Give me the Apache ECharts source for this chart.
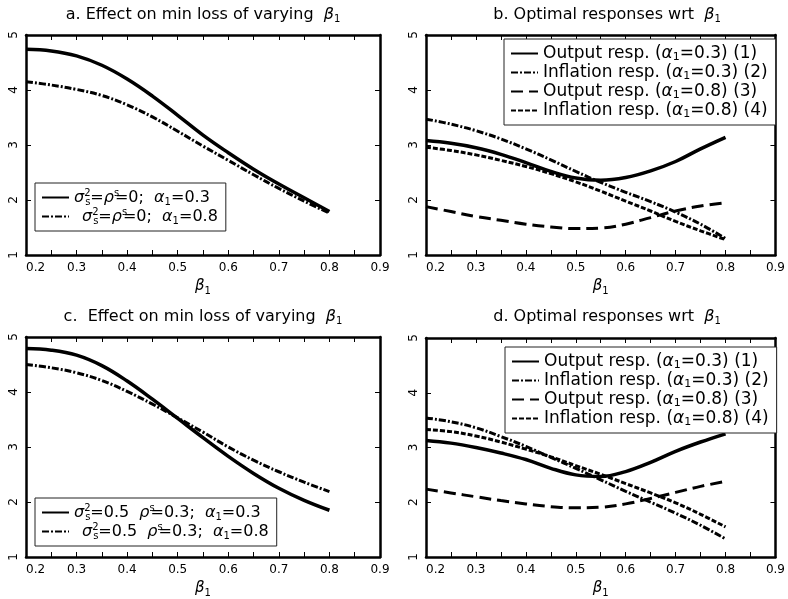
<!DOCTYPE html>
<html>
<head>
<meta charset="utf-8">
<script src="https://cdn.jsdelivr.net/npm/echarts@6/dist/echarts.min.js"></script>
<style>
  html, body { margin: 0; padding: 0; background: #fff; }
  #chart { width: 788px; height: 599px; }
</style>
</head>
<body>
<div id="chart"></div>
<script>
const beta = [0.2, 0.25, 0.3, 0.35, 0.4, 0.45, 0.5, 0.55, 0.6, 0.65, 0.7, 0.75, 0.8]
const xTicks = ['0.2', '0.3', '0.4', '0.5', '0.6', '0.7', '0.8', '0.9']

// a. min loss, sigma_s^2 = rho^s = 0
const lossA03 = [4.74, 4.71, 4.62, 4.45, 4.20, 3.89, 3.54, 3.18, 2.86, 2.56, 2.29, 2.04, 1.79]
const lossA08 = [4.15, 4.09, 4.01, 3.90, 3.73, 3.51, 3.25, 2.98, 2.72, 2.46, 2.21, 1.98, 1.76]

// c. min loss, sigma_s^2 = 0.5, rho^s = 0.3
const lossC03 = [4.79, 4.76, 4.67, 4.48, 4.20, 3.87, 3.52, 3.17, 2.83, 2.52, 2.25, 2.03, 1.85]
const lossC08 = [4.50, 4.44, 4.35, 4.21, 4.01, 3.78, 3.53, 3.27, 3.00, 2.76, 2.55, 2.36, 2.19]

// b. optimal responses
const outB03 = [3.08, 3.03, 2.95, 2.83, 2.68, 2.52, 2.40, 2.36, 2.41, 2.53, 2.70, 2.93, 3.14]
const infB03 = [3.47, 3.38, 3.26, 3.11, 2.93, 2.73, 2.52, 2.32, 2.14, 1.97, 1.78, 1.56, 1.30]
const outB08 = [1.88, 1.79, 1.70, 1.63, 1.56, 1.51, 1.48, 1.49, 1.56, 1.68, 1.80, 1.89, 1.95]
const infB08 = [2.96, 2.90, 2.82, 2.72, 2.61, 2.48, 2.33, 2.16, 1.98, 1.80, 1.61, 1.44, 1.28]

// d. optimal responses
const outD03 = [3.13, 3.08, 3.00, 2.90, 2.78, 2.62, 2.50, 2.47, 2.56, 2.73, 2.93, 3.10, 3.25]
const infD03 = [3.54, 3.47, 3.36, 3.20, 3.02, 2.82, 2.62, 2.41, 2.20, 2.00, 1.80, 1.58, 1.33]
const outD08 = [2.24, 2.17, 2.10, 2.03, 1.97, 1.92, 1.90, 1.91, 1.97, 2.07, 2.18, 2.29, 2.38]
const infD08 = [3.33, 3.29, 3.21, 3.10, 2.97, 2.83, 2.67, 2.51, 2.34, 2.17, 1.99, 1.78, 1.55]

const titles = [
  'a. Effect on min loss of varying  {g|β}{s|1}',
  'b. Optimal responses wrt  {g|β}{s|1}',
  'c.  Effect on min loss of varying  {g|β}{s|1}',
  'd. Optimal responses wrt  {g|β}{s|1}',
]

const legendText = {
  a1: '{g|σ}{up|2}{s|s}={g|ρ}{up|s}=0;  {g|α}{s|1}=0.3',
  a2: '{p|}{g|σ}{up|2}{s|s}={g|ρ}{up|s}=0;  {g|α}{s|1}=0.8',
  c1: '{g|σ}{up|2}{s|s}=0.5  {g|ρ}{up|s}=0.3;  {g|α}{s|1}=0.3',
  c2: '{p|}{g|σ}{up|2}{s|s}=0.5  {g|ρ}{up|s}=0.3;  {g|α}{s|1}=0.8',
  r1: 'Output resp. ({g|α}{s|1}=0.3) (1)',
  r2: 'Inflation resp. ({g|α}{s|1}=0.3) (2)',
  r3: 'Output resp. ({g|α}{s|1}=0.8) (3)',
  r4: 'Inflation resp. ({g|α}{s|1}=0.8) (4)',
}

const FONT = 'DejaVu Sans'
const grids = [
  { left: 26, top: 35, width: 354, height: 220 },
  { left: 426, top: 35, width: 352, height: 220 },
  { left: 26, top: 337, width: 354, height: 220 },
  { left: 426, top: 338, width: 352, height: 220 },
]

function rich(size) {
  return {
    g: { fontFamily: FONT, fontStyle: 'italic', fontSize: size, lineHeight: 17 },
    s: { fontFamily: FONT, fontSize: Math.round(size * 0.65), verticalAlign: 'bottom', lineHeight: 19 },
    up: { fontFamily: FONT, fontSize: Math.round(size * 0.65), verticalAlign: 'top', lineHeight: 14, width: 1 },
    p: { width: 8 },
  }
}

const frame = { onZero: false, lineStyle: { color: '#000', width: 2.5 } }
const tick = { inside: true, length: 5, lineStyle: { color: '#000', width: 1 } }

const xAxis = []
const yAxis = []
grids.forEach((g, i) => {
  xAxis.push({
    gridIndex: i, type: 'value', position: 'bottom', min: 0.2, max: 0.9, interval: 0.05,
    axisLine: frame, axisTick: tick, splitLine: { show: false },
    axisLabel: {
      color: '#000', fontFamily: FONT, fontSize: 12, margin: 7, alignMinLabel: 'left',
      formatter: v => Math.abs(v * 10 - Math.round(v * 10)) < 1e-6 && xTicks.includes(v.toFixed(1)) ? v.toFixed(1) : '',
    },
    name: '{g|β}{s|1}', nameLocation: 'middle', nameGap: 22,
    nameTextStyle: { color: '#000', fontFamily: FONT, fontSize: 15, lineHeight: 17, rich: rich(15) },
  })
  xAxis.push({
    gridIndex: i, type: 'value', position: 'top', min: 0.2, max: 0.9, interval: 0.05,
    axisLine: frame, axisTick: tick, axisLabel: { show: false }, splitLine: { show: false },
  })
  yAxis.push({
    gridIndex: i, type: 'value', position: 'left', min: 1, max: 5, interval: 1,
    axisLine: frame, axisTick: tick, splitLine: { show: false },
    axisLabel: { color: '#000', fontFamily: FONT, fontSize: 12, rotate: 90, margin: 6 },
  })
  yAxis.push({
    gridIndex: i, type: 'value', position: 'right', min: 1, max: 5, interval: 1,
    axisLine: frame, axisTick: tick, axisLabel: { show: false }, splitLine: { show: false },
  })
})

const SOLID = 'solid'
const DASHDOT = [7, 2, 2, 2]
const LONGDASH = [12, 6]
const SHORTDASH = [5, 2]

function curve(name, panel, values, type, width) {
  return {
    name, type: 'line', xAxisIndex: panel * 2, yAxisIndex: panel * 2,
    data: beta.map((b, i) => [b, values[i]]),
    smooth: 0.4, symbol: 'none',
    itemStyle: { color: '#000' },
    lineStyle: { color: '#000', width: width || 3, type },
  }
}

const series = [
  curve('a1', 0, lossA03, SOLID, 3.5),
  curve('a2', 0, lossA08, DASHDOT),
  curve('r1', 1, outB03, SOLID, 3.5),
  curve('r2', 1, infB03, DASHDOT),
  curve('r3', 1, outB08, LONGDASH),
  curve('r4', 1, infB08, SHORTDASH),
  curve('c1', 2, lossC03, SOLID, 3.5),
  curve('c2', 2, lossC08, DASHDOT),
  curve('r1', 3, outD03, SOLID, 3.5),
  curve('r2', 3, infD03, DASHDOT),
  curve('r3', 3, outD08, LONGDASH),
  curve('r4', 3, infD08, SHORTDASH),
]

function legend(names, left, top, size) {
  return {
    data: names, left, top, orient: 'vertical', selectedMode: false,
    itemWidth: 27, itemHeight: 14, itemGap: 0,
    padding: [5, 8, 5, 6], borderColor: '#222', borderWidth: 1, backgroundColor: '#fff',
    itemStyle: { opacity: 0 },
    formatter: name => legendText[name],
    textStyle: { color: '#000', fontFamily: FONT, fontSize: size, lineHeight: 17, rich: rich(size) },
  }
}

const titleCenters = [[198, 0], [602, 0], [198, 302], [602, 302]]

const option = {
  animation: false,
  backgroundColor: '#fff',
  title: titles.map((t, i) => ({
    text: t, left: titleCenters[i][0], top: titleCenters[i][1], textAlign: 'center',
    textStyle: { color: '#000', fontFamily: FONT, fontSize: 16, fontWeight: 'normal', lineHeight: 17, rich: rich(16) },
  })),
  grid: grids,
  xAxis,
  yAxis,
  legend: [
    legend(['a1', 'a2'], 35, 183, 16),
    legend(['r1', 'r2', 'r3', 'r4'], 504, 39, 17),
    legend(['c1', 'c2'], 35, 498, 16),
    legend(['r1', 'r2', 'r3', 'r4'], 505, 347, 17),
  ],
  series,
}

const myChart = echarts.init(document.getElementById('chart'))
myChart.setOption(option)
</script>
</body>
</html>
